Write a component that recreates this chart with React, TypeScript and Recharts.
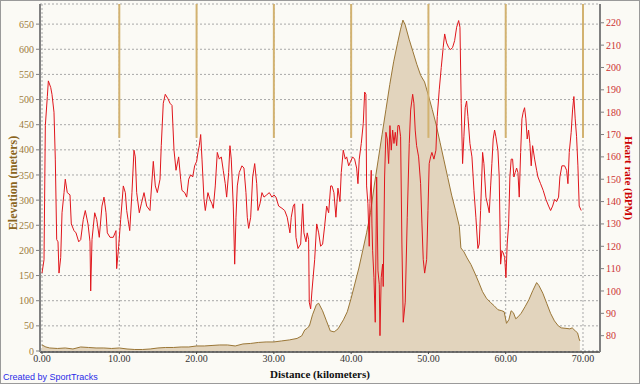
import React from 'react';
import {
  ComposedChart,
  Area,
  Line,
  XAxis,
  YAxis,
  CartesianGrid,
  ReferenceLine
} from 'recharts';

// elevation profile (km, meters)
const elevKm = [
  0, 0.5, 1, 2, 3, 4, 5, 6, 7, 8, 9, 10, 11, 12, 13, 14, 15, 16, 17, 18, 19, 20,
  21, 22, 23, 24, 25, 26, 27, 28, 29, 30, 31, 32, 33, 33.6, 34, 34.3, 34.6, 35,
  35.5, 35.8, 36.3, 36.8, 37.3, 37.8, 38.3, 39, 39.5, 40, 40.5, 41, 41.5, 42,
  42.5, 43, 43.5, 44, 44.5, 45, 45.5, 46, 46.4, 46.7, 47, 47.5, 48, 48.5, 49,
  49.5, 50, 50.5, 51, 51.5, 52, 52.5, 53, 53.5, 54, 54.2, 54.6, 55, 55.5, 56,
  56.5, 57, 57.5, 58, 58.5, 59, 59.5, 59.8, 60.1, 60.4, 60.7, 61, 61.3, 61.6,
  62, 62.5, 63, 63.5, 64, 64.3, 64.8, 65.3, 65.8, 66.3, 66.8, 67.2, 67.8, 68.3,
  68.6, 69, 69.3, 69.5, 69.6
];
const elevM = [
  12, 8, 6, 5, 6, 4, 8, 7, 6, 6, 5, 6, 4, 3, 3, 4, 6, 7, 7, 8, 8, 10,
  10, 11, 12, 12, 10, 14, 15, 17, 18, 18, 20, 22, 25, 30, 42, 45, 50, 72,
  92, 95, 80, 60, 40, 38, 44, 62, 78, 105, 135, 165, 200, 235,
  275, 330, 380, 430, 480, 530, 575, 612, 640, 658, 648, 620, 595, 570, 548,
  535, 508, 480, 450, 415, 380, 345, 310, 280, 248, 205, 197, 185, 172, 155,
  137, 118, 105, 97, 90, 82, 80, 78, 55, 62, 80, 76, 64, 68,
  75, 88, 102, 120, 136, 130, 115, 95, 75, 60, 50, 46, 45, 44,
  46, 40, 36, 24, 20
];

// heart rate (km, BPM)
const hrKm = [
  0, 0.26, 0.43, 0.69, 0.82, 1.13, 1.29, 1.55, 1.72, 1.9, 2.07, 2.2, 2.42, 2.59,
  2.85, 3.01, 3.27, 3.62, 3.79, 4.14, 4.4, 4.75, 5.01, 5.34, 5.6, 5.95, 6.21,
  6.3, 6.47, 6.82, 7.08, 7.41, 7.76, 8.02, 8.28, 8.45, 8.8, 9.22, 9.57, 9.66,
  9.92, 10.18, 10.52, 10.78, 10.96, 11.13, 11.35, 11.64, 11.9, 12.07, 12.25,
  12.59, 12.85, 13.2, 13.54, 13.97, 14.06, 14.4, 14.66, 14.92, 15.27, 15.43,
  15.69, 15.95, 16.3, 16.56, 16.82, 17.08, 17.34, 17.68, 17.94, 18.11, 18.46,
  18.72, 18.98, 19.24, 19.5, 19.75, 20.01, 20.18, 20.35, 20.53, 20.7, 20.96,
  21.13, 21.47, 21.73, 21.99, 22.16, 22.42, 22.68, 22.94, 23.2, 23.45, 23.71,
  23.89, 24.15, 24.32, 24.49, 24.75, 24.93, 25.1, 25.27, 25.52, 25.87, 26.13,
  26.39, 26.56, 26.74, 27, 27.26, 27.52, 27.78, 27.94, 28.2, 28.46, 28.72,
  29.07, 29.41, 29.75, 30.01, 30.27, 30.62, 31.05, 31.4, 31.73, 32.08, 32.25,
  32.51, 32.69, 32.86, 33.12, 33.47, 33.73, 33.89, 34.15, 34.32, 34.5, 34.58,
  34.76, 34.93, 35.28, 35.54, 35.8, 36.05, 36.31, 36.57, 36.83, 37.09, 37.35,
  37.52, 37.77, 38.03, 38.29, 38.55, 38.72, 38.98, 39.24, 39.42, 39.68, 39.94,
  40.19, 40.45, 40.71, 40.88, 41.05, 41.31, 41.57, 41.75, 41.91, 42, 42.17,
  42.34, 42.43, 42.6, 42.69, 42.78, 42.95, 43.12, 43.3, 43.47, 43.64, 43.73,
  43.89, 44.07, 44.15, 44.33, 44.5, 44.67, 44.85, 45.02, 45.19, 45.37, 45.54,
  45.71, 45.89, 46.05, 46.22, 46.4, 46.57, 46.74, 47, 47.26, 47.52, 47.7,
  47.96, 48.12, 48.29, 48.47, 48.73, 48.99, 49.16, 49.33, 49.51, 49.77, 49.94,
  50.1, 50.28, 50.45, 50.71, 50.97, 51.14, 51.4, 51.66, 51.91, 52.1, 52.35,
  52.61, 52.87, 53.13, 53.39, 53.65, 53.91, 54.08, 54.24, 54.42, 54.59, 54.76,
  54.94, 55.11, 55.37, 55.63, 55.89, 56.14, 56.4, 56.57, 56.75, 57.01, 57.18,
  57.44, 57.7, 57.87, 58.05, 58.21, 58.38, 58.56, 58.73, 58.99, 59.16, 59.34,
  59.51, 59.68, 59.86, 60.03, 60.19, 60.38, 60.54, 60.71, 60.89, 61.06, 61.23,
  61.41, 61.58, 61.75, 61.93, 62.1, 62.26, 62.44, 62.61, 62.78, 62.96, 63.13,
  63.3, 63.48, 63.74, 64, 64.17, 64.51, 64.85, 65.2, 65.55, 65.81, 66.07,
  66.33, 66.58, 66.84, 67.01, 67.27, 67.62, 67.88, 68.05, 68.22, 68.47, 68.65,
  68.82, 68.99, 69.17, 69.34, 69.51, 69.77
];
const hrBpm = [
  108, 114, 174, 187, 194, 191, 188, 180, 159, 123, 122, 108, 115, 135,
  144, 150, 144, 143, 130, 127, 126, 122, 123, 132, 136, 130, 122,
  100, 123, 135, 132, 124, 138, 142, 135, 126, 124, 124, 127, 110,
  120, 132, 147, 144, 136, 132, 127, 144, 163, 160, 144,
  135, 139, 144, 138, 136, 141, 158, 147, 144, 150, 165,
  184, 188, 186, 184, 183, 163, 154, 160, 150, 145, 144,
  142, 150, 152, 151, 156, 158, 162, 165, 170, 159, 141,
  136, 144, 141, 139, 137, 147, 162, 159, 160, 154, 148,
  142, 153, 165, 159, 138, 112, 133, 147, 153, 156, 155,
  144, 133, 128, 133, 151, 157, 148, 136, 139, 144, 142,
  143, 144, 142, 143, 142, 138, 137, 136, 133, 126, 133,
  138, 139, 124, 119, 121, 139, 126, 122, 126, 123, 95,
  92, 100, 114, 130, 126, 120, 121, 129, 138, 135, 147,
  147, 144, 133, 146, 140, 153, 163, 159, 160, 156, 158,
  160, 159, 155, 148, 159, 166, 175, 189, 188, 147, 139,
  120, 139, 154, 130, 118, 106, 86, 151, 109, 103, 80,
  106, 112, 102, 151, 171, 168, 157, 174, 163, 172, 166,
  171, 165, 174, 174, 169, 121, 86, 95, 133, 166, 181,
  188, 184, 172, 165, 160, 148, 130, 114, 108, 114, 136,
  157, 160, 162, 159, 163, 178, 190, 200, 209, 215, 211,
  209, 208, 209, 212, 218, 221, 218, 184, 157, 169, 182,
  185, 178, 166, 160, 145, 133, 119, 121, 136, 162, 157,
  142, 138, 135, 147, 157, 168, 172, 169, 163, 151, 112,
  118, 117, 115, 106, 121, 130, 151, 159, 159, 151, 153,
  155, 153, 142, 162, 177, 180, 182, 177, 168, 172, 166,
  156, 165, 159, 154, 151, 148, 145, 141, 138, 136, 138,
  141, 140, 142, 151, 156, 156, 154, 148, 162, 171, 181,
  187, 177, 169, 156, 138, 136
];

const lapKm = [10, 20, 30, 40, 50, 60, 70];
const distTicks = [0, 10, 20, 30, 40, 50, 60, 70];
const elevTicks = [0, 50, 100, 150, 200, 250, 300, 350, 400, 450, 500, 550, 600, 650];
const hrTicks = [80, 90, 100, 110, 120, 130, 140, 150, 160, 170, 180, 190, 200, 210, 220];

const elevData = elevKm.map((km, i) => ({ km, elev: elevM[i] }));
const hrData = hrKm.map((km, i) => ({ km, hr: hrBpm[i] }));

const serif = '"Liberation Serif", "Times New Roman", serif';

export default function App() {
  return (
    <div style={{ position: 'relative', width: 640, height: 384, background: '#fbfaf5' }}>
      <style>{'body{margin:0}'}</style>
      <ComposedChart width={640} height={384} margin={{ top: 4, right: 0, bottom: 0, left: 0 }}>
        <CartesianGrid yAxisId="elev" stroke="#a8a8a8" strokeDasharray="2 2" />
        <XAxis
          dataKey="km"
          type="number"
          domain={[-0.26, 72.2]}
          allowDataOverflow
          ticks={distTicks}
          tickFormatter={(v) => Number(v).toFixed(2)}
          height={32}
          tickSize={2}
          tickMargin={1}
          tick={{ fill: '#333', fontSize: 10, fontFamily: serif }}
          axisLine={{ stroke: '#444', strokeWidth: 1.5 }}
          tickLine={{ stroke: '#444' }}
          label={{
            value: 'Distance (kilometers)',
            position: 'insideBottom',
            offset: 6,
            fill: '#111',
            fontSize: 11,
            fontWeight: 'bold',
            fontFamily: serif
          }}
        />
        <YAxis
          yAxisId="elev"
          orientation="left"
          width={40}
          domain={[-2, 690]}
          allowDataOverflow
          ticks={elevTicks}
          tickSize={4}
          tick={{ fill: '#9b7b3c', fontSize: 10, fontFamily: serif }}
          axisLine={{ stroke: '#808080', strokeWidth: 2 }}
          tickLine={{ stroke: '#808080' }}
          label={{
            content: () => (
              <text
                x={13}
                y={183}
                transform="rotate(-90 13 183)"
                textAnchor="middle"
                dominantBaseline="central"
                fill="#8a6520"
                fontSize={12}
                fontWeight="bold"
                fontFamily={serif}
              >
                Elevation (meters)
              </text>
            )
          }}
        />
        <YAxis
          yAxisId="hr"
          orientation="right"
          width={40}
          domain={[72.7, 228.4]}
          allowDataOverflow
          ticks={hrTicks}
          tickSize={4}
          tick={{ fill: '#cc3333', fontSize: 10, fontFamily: serif }}
          axisLine={{ stroke: '#808080', strokeWidth: 2 }}
          tickLine={{ stroke: '#808080' }}
          label={{
            content: () => (
              <text
                x={629}
                y={178}
                transform="rotate(90 629 178)"
                textAnchor="middle"
                dominantBaseline="central"
                fill="#cc0000"
                fontSize={11}
                fontWeight="bold"
                fontFamily={serif}
              >
                Heart rate (BPM)
              </text>
            )
          }}
        />
        <Area
          yAxisId="elev"
          data={elevData}
          dataKey="elev"
          type="linear"
          stroke="#9a7636"
          strokeWidth={1}
          fill="#e2d4bd"
          fillOpacity={1}
          isAnimationActive={false}
        />
        {lapKm.map((km) => (
          <ReferenceLine
            key={km}
            yAxisId="hr"
            segment={[{ x: km, y: 168.5 }, { x: km, y: 228.4 }]}
            stroke="#d2b270"
            strokeWidth={2}
          />
        ))}
        <Line
          yAxisId="hr"
          data={hrData}
          dataKey="hr"
          type="linear"
          stroke="#e0161c"
          strokeWidth={1}
          dot={false}
          isAnimationActive={false}
        />
      </ComposedChart>
      <div
        style={{
          position: 'absolute',
          left: 3,
          top: 372,
          fontFamily: '"Liberation Sans", Arial, sans-serif',
          fontSize: 9,
          color: '#2a2ae8',
          lineHeight: '11px'
        }}
      >
        Created by SportTracks
      </div>
      <div
        style={{
          position: 'absolute',
          inset: 0,
          border: '1px solid #9a9a9a',
          pointerEvents: 'none'
        }}
      />
    </div>
  );
}
